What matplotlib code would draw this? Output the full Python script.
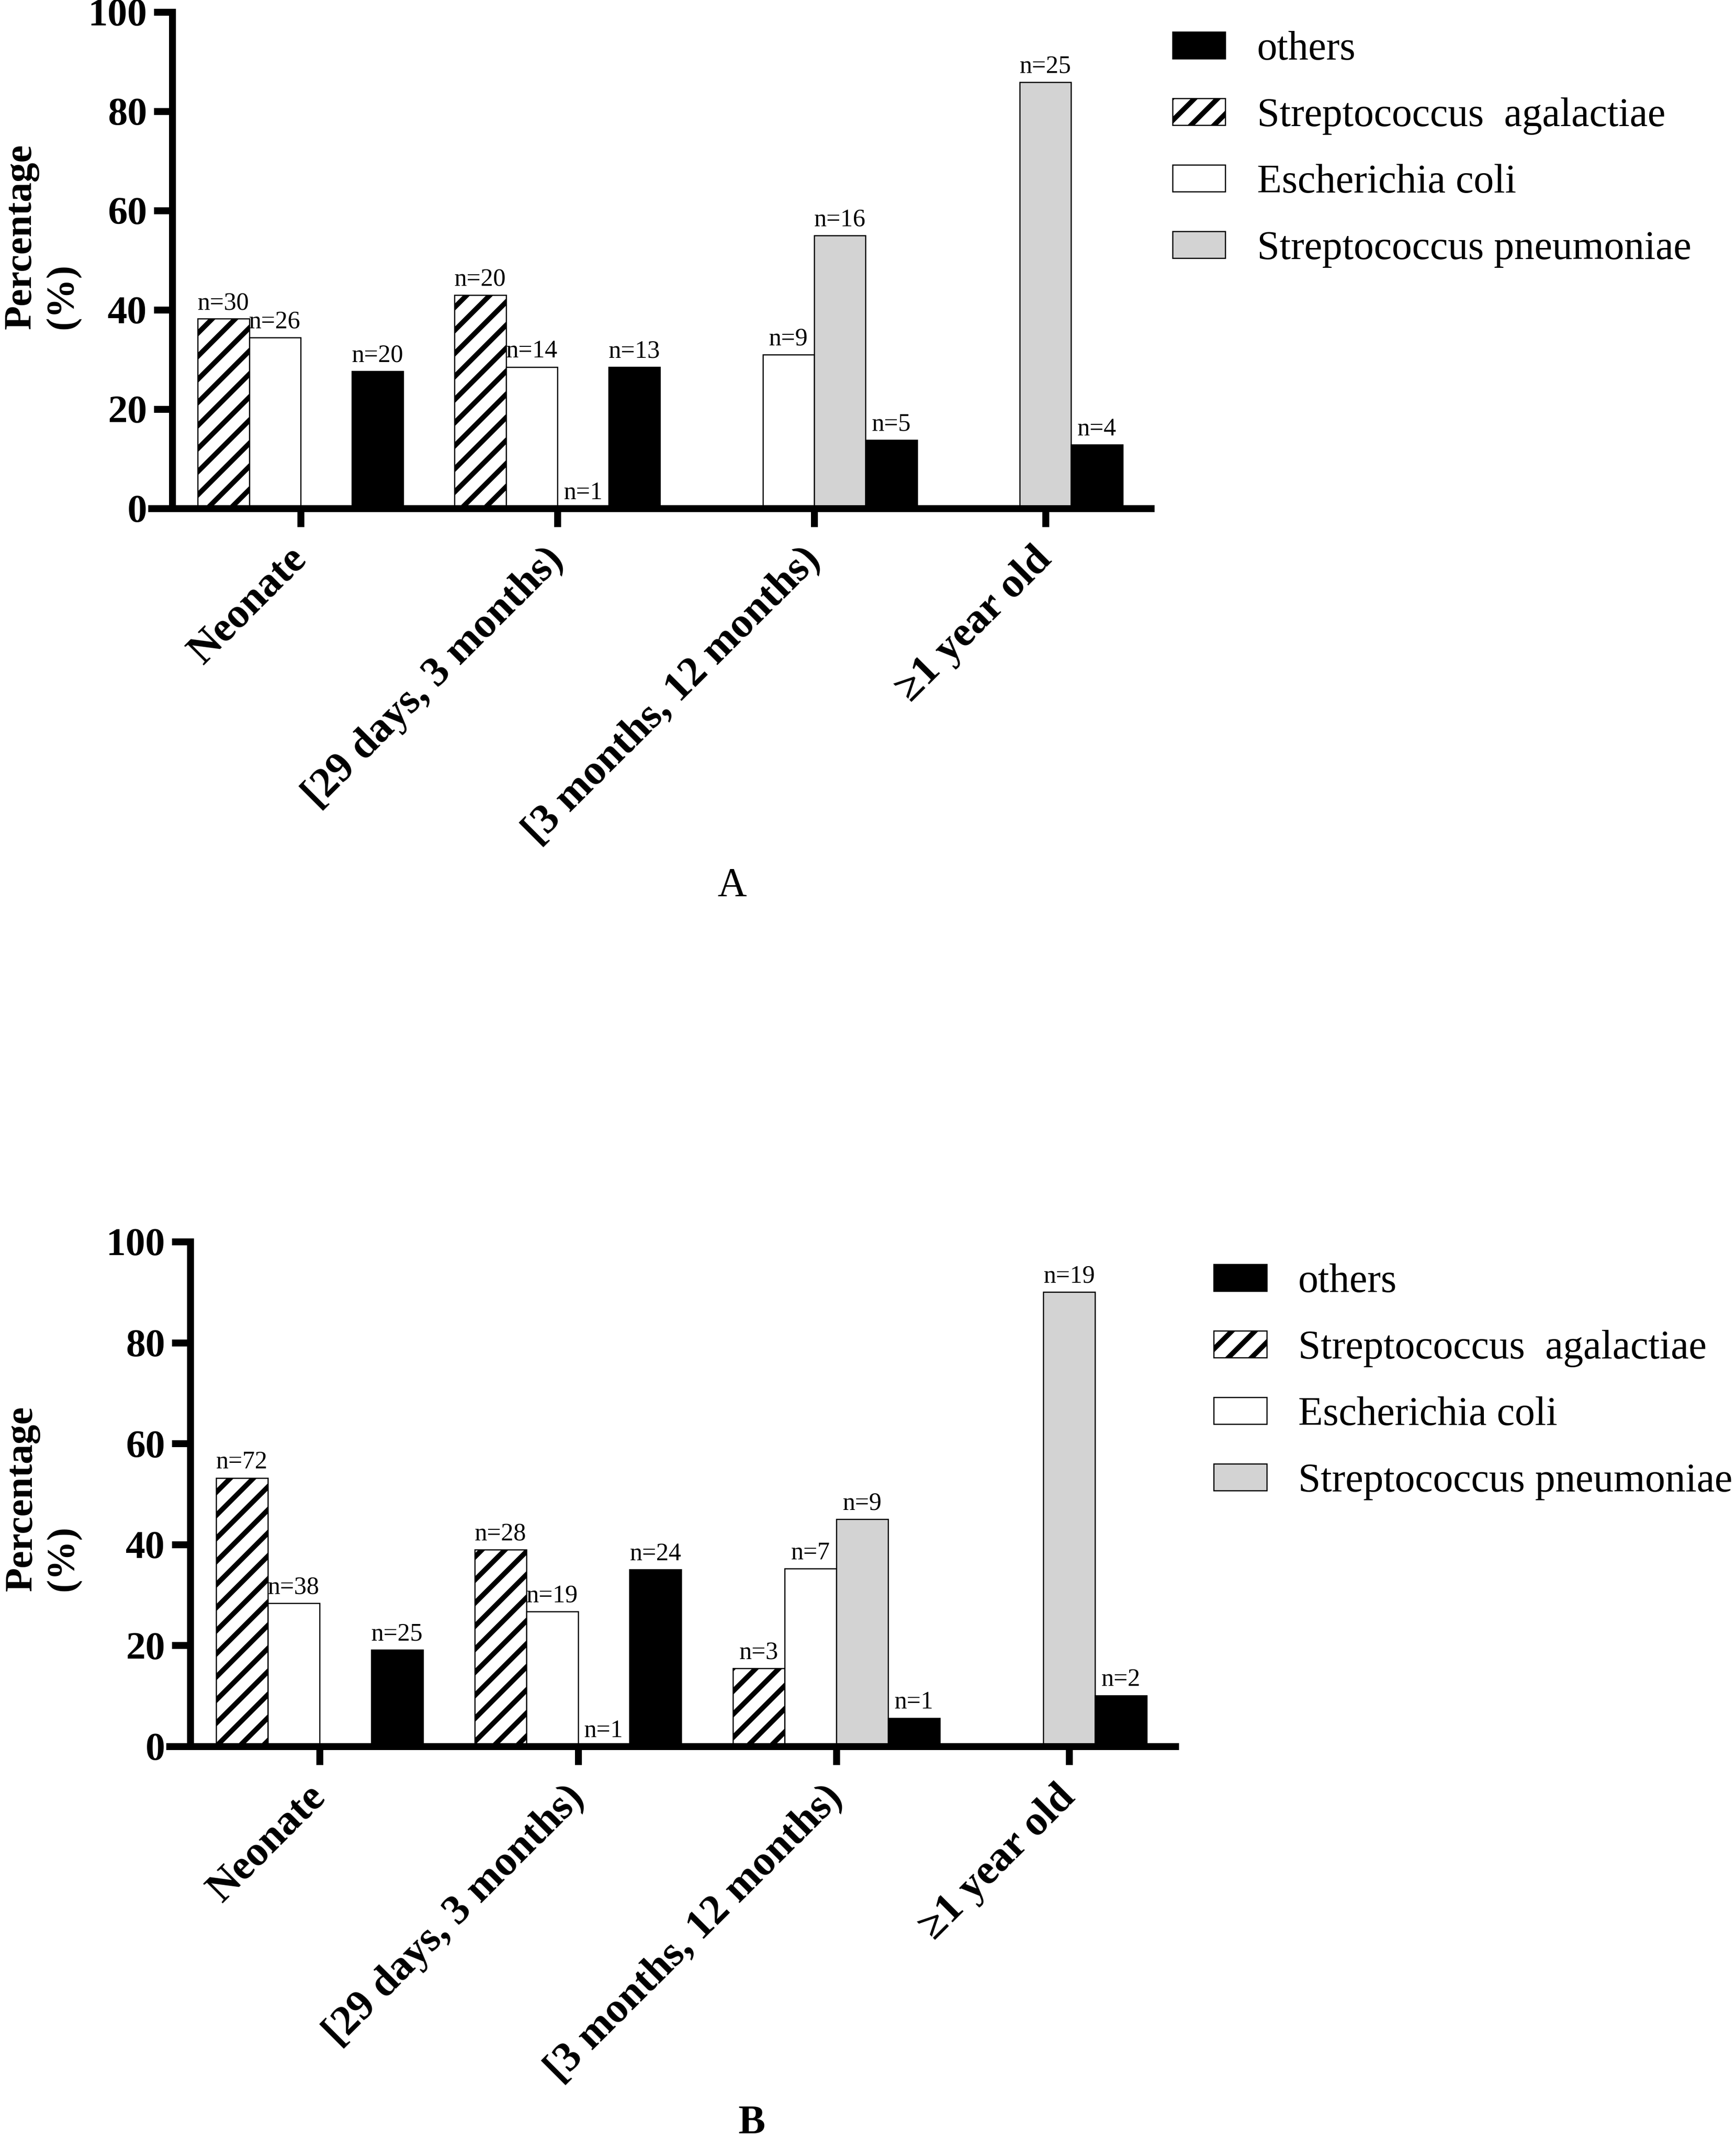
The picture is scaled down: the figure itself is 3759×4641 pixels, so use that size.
import numpy as np
import matplotlib
matplotlib.use("Agg")
import matplotlib.pyplot as plt
from matplotlib.patches import Patch

plt.rcParams['font.family'] = ['Liberation Serif', 'DejaVu Serif']
plt.rcParams['hatch.linewidth'] = 2.6

age_groups = ["Neonate", "[29 days, 3 months)", "[3 months, 12 months)", "\u22651 year old"]
series_names = ["Streptococcus  agalactiae", "Escherichia coli",
                "Streptococcus pneumoniae", "others"]
y_ticks = [0, 20, 40, 60, 80, 100]

# percentages, nan = no bar in that slot
agal_a = [38.2, 43.0, np.nan, np.nan]
ecoli_a = [34.4, 28.5, 31.0, 0.0]
pneu_a = [np.nan, 0.0, 55.0, 85.9]
others_a = [27.6, 28.5, 13.8, 12.8]

agal_b = [53.2, 39.0, 15.5, np.nan]
ecoli_b = [28.4, 26.7, 35.2, 0.0]
pneu_b = [np.nan, 0.0, 45.0, 90.0]
others_b = [19.1, 35.0, 5.6, 10.1]

# case counts printed above bars
n_agal_a = [30, 20, None, None]
n_ecoli_a = [26, 14, 9, None]
n_pneu_a = [None, 1, 16, 25]
n_others_a = [20, 13, 5, 4]

n_agal_b = [72, 28, 3, None]
n_ecoli_b = [38, 19, 7, None]
n_pneu_b = [None, 1, 9, 19]
n_others_b = [25, 24, 1, 2]

# which series get a slot in each age group (last group has no agalactiae slot)
slots_per_group = [[0, 1, 2, 3], [0, 1, 2, 3], [0, 1, 2, 3], [1, 2, 3]]

styles = [
    dict(facecolor="white", edgecolor="black", hatch="//", linewidth=0.6),
    dict(facecolor="white", edgecolor="black", linewidth=0.6),
    dict(facecolor="#d3d3d3", edgecolor="black", linewidth=0.6),
    dict(facecolor="black", edgecolor="black", linewidth=0.6),
]
legend_order = [3, 0, 1, 2]


def draw_panel(ax, values, counts):
    # spine position first: moving it resets the ticks
    ax.spines["top"].set_visible(False)
    ax.spines["right"].set_visible(False)
    ax.spines["left"].set_position(("data", -1.0))
    for side in ["left", "bottom"]:
        ax.spines[side].set_linewidth(3.6)
        ax.spines[side].set_zorder(3)

    pos = 0
    centers = []
    for g, slots in enumerate(slots_per_group):
        xs = pos + np.arange(len(slots))
        centers.append(xs.mean())
        for x, s in zip(xs, slots):
            v = values[s][g]
            if np.isnan(v):
                continue
            ax.bar(x, v, width=1.0, zorder=2, **styles[s])
            if counts[s][g] is not None:
                ax.annotate("n=%d" % counts[s][g], (x, v), xytext=(0, 2.0),
                            textcoords="offset points", ha="center", va="bottom",
                            fontsize=13)
        pos += len(slots) + 1

    ax.set_xlim(-1.4, 18.05)
    ax.set_ylim(0, 100)
    ax.tick_params(axis="both", length=9.6, width=3.6, direction="out")
    ax.tick_params(axis="y", pad=3.4)
    ax.tick_params(axis="x", pad=14)
    ax.set_yticks(y_ticks)
    ax.set_yticklabels([str(t) for t in y_ticks], fontweight="bold", fontsize=20.5)
    ax.set_xticks(centers)
    ax.set_xticklabels(age_groups, rotation=45, ha="right", va="center",
                       rotation_mode="anchor", fontweight="bold", fontsize=22)


fig = plt.figure(figsize=(3759 / 300, 4641 / 300), dpi=300)

ax_a = fig.add_axes([0.0873, 0.76277, 0.6629 - 0.0873, 0.99440 - 0.76277])
ax_b = fig.add_axes([0.0976, 0.18509, 0.6770 - 0.0976, 0.42060 - 0.18509])
ax_a.patch.set_alpha(0)
ax_b.patch.set_alpha(0)

draw_panel(ax_a, [agal_a, ecoli_a, pneu_a, others_a],
           [n_agal_a, n_ecoli_a, n_pneu_a, n_others_a])
draw_panel(ax_b, [agal_b, ecoli_b, pneu_b, others_b],
           [n_agal_b, n_ecoli_b, n_pneu_b, n_others_b])

handles = [Patch(**styles[i], label=series_names[i]) for i in legend_order]
for anchor in [(0.6754, 0.9856), (0.6991, 0.4105)]:
    fig.legend(handles=handles, loc="upper left", bbox_to_anchor=anchor,
               frameon=False, fontsize=21, borderpad=0, borderaxespad=0,
               handlelength=1.31, handleheight=0.63, handletextpad=0.78,
               labelspacing=0.72)

fig.text(0.0242, 0.8464, "Percentage\n(%)", rotation=90, ha="center", va="bottom",
         multialignment="left", fontweight="bold", fontsize=20.5)
fig.text(0.0245, 0.2575, "Percentage\n(%)", rotation=90, ha="center", va="bottom",
         multialignment="left", fontweight="bold", fontsize=20.5)

fig.text(0.4217, 0.5867, "A", ha="center", va="center", fontsize=21)
fig.text(0.4331, 0.00905, "B", ha="center", va="center", fontsize=21, fontweight="bold")

fig.savefig("out.png", dpi=300)
